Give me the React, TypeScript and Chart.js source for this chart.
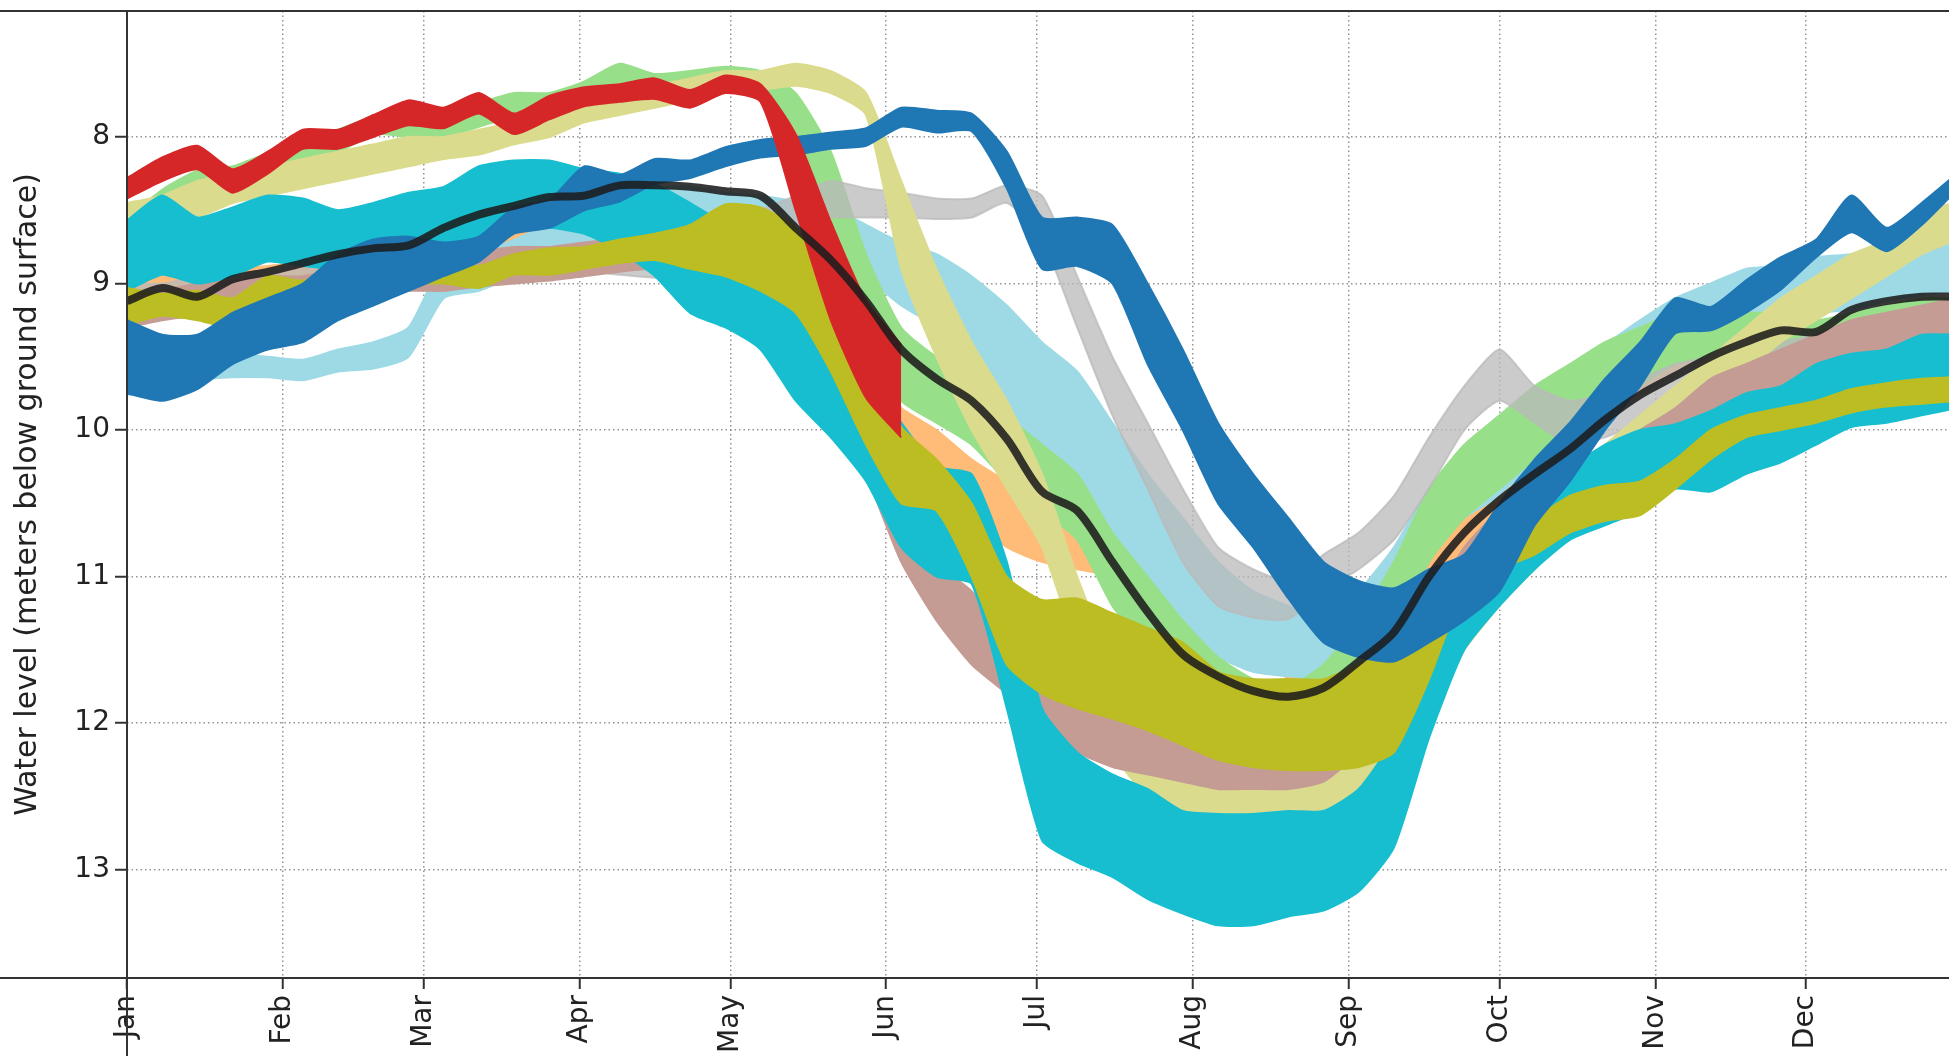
import React, { useEffect, useRef } from "react";
import { Chart, registerables } from "chart.js";

Chart.register(...registerables);

// Day of year (0 = 1 Jan), one sample per week
const DAYS = [
  0, 7, 14, 21, 28, 35, 42, 49, 56, 63,
  70, 77, 84, 91, 98, 105, 112, 119, 126, 133,
  140, 147, 154, 161, 168, 175, 182, 189, 196, 203,
  210, 217, 224, 231, 238, 245, 252, 259, 266, 273,
  280, 287, 294, 301, 308, 315, 322, 329, 336, 343,
  350, 357, 364,
];

const MONTH_LABELS = ["Jan", "Feb", "Mar", "Apr", "May", "Jun", "Jul", "Aug", "Sep", "Oct", "Nov", "Dec"];
const MONTH_START_DAYS = [0, 31, 59, 90, 120, 151, 181, 212, 243, 273, 304, 334];
const DEPTH_TICKS = [8, 9, 10, 11, 12, 13];

// Each year: shallow edge and deep edge of its daily fluctuation band (m below ground)
const RED_SHALLOW = [
  8.28, 8.14, 8.06, 8.22, 8.10, 7.95, 7.95, 7.85, 7.75, 7.80,
  7.70, 7.84, 7.72, 7.66, 7.64, 7.60, 7.68, 7.58, 7.64, 7.98,
  8.58, 9.12, 9.42,
];
const RED_DEEP = [
  8.42, 8.30, 8.22, 8.38, 8.25, 8.08, 8.08, 8.00, 7.92, 7.94,
  7.84, 7.98, 7.88, 7.79, 7.76, 7.74, 7.80, 7.70, 7.76, 8.50,
  9.25, 9.78, 10.05,
];

const LIGHT_GREEN_SHALLOW = [
  8.55, 8.36, 8.23, 8.20, 8.11, 8.04, 7.95, 7.86, 7.84, 7.86,
  7.77, 7.70, 7.70, 7.62, 7.50, 7.57, 7.55, 7.52, 7.55, 7.70,
  8.10, 8.80, 9.30, 9.50, 9.60, 9.90, 10.10, 10.30, 10.70, 11.00,
  11.30, 11.55, 11.70, 11.75, 11.60, 11.30, 10.90, 10.40, 10.10, 9.90,
  9.70, 9.55, 9.40, 9.30, 9.20, 9.20, 9.20, 9.20, 9.25, 9.20,
  9.15, 9.10, 9.10,
];
const LIGHT_GREEN_DEEP = [
  8.75, 8.55, 8.43, 8.39, 8.30, 8.24, 8.11, 7.98, 8.00, 8.00,
  7.93, 7.86, 7.82, 7.77, 7.70, 7.73, 7.68, 7.62, 7.66, 7.95,
  8.60, 9.40, 9.80, 9.95, 10.10, 10.35, 10.55, 10.75, 11.20, 11.50,
  11.80, 12.00, 12.15, 12.20, 11.95, 11.70, 11.40, 10.90, 10.60, 10.40,
  10.20, 10.00, 9.90, 9.70, 9.55, 9.50, 9.50, 9.50, 9.55, 9.50,
  9.45, 9.40, 9.35,
];

const KHAKI_SHALLOW = [
  8.45, 8.40, 8.30, 8.25, 8.20, 8.15, 8.10, 8.05, 8.00, 8.00,
  7.95, 7.90, 7.85, 7.75, 7.70, 7.65, 7.60, 7.55, 7.55, 7.50,
  7.55, 7.70, 8.30, 8.90, 9.40, 9.80, 10.30, 11.00, 11.60, 12.00,
  12.20, 12.35, 12.35, 12.30, 12.25, 12.00, 11.80, 11.50, 11.10, 10.80,
  10.60, 10.35, 10.10, 9.90, 9.70, 9.50, 9.30, 9.10, 8.95, 8.80,
  8.70, 8.50, 8.45,
];
const KHAKI_DEEP = [
  8.70, 8.60, 8.55, 8.45, 8.40, 8.35, 8.30, 8.25, 8.20, 8.15,
  8.12, 8.05, 8.00, 7.90, 7.85, 7.80, 7.75, 7.70, 7.68, 7.65,
  7.70, 7.85, 8.90, 9.50, 10.00, 10.40, 10.80, 11.50, 12.20, 12.50,
  12.65, 12.72, 12.72, 12.70, 12.65, 12.50, 12.30, 11.90, 11.50, 11.20,
  10.95, 10.70, 10.45, 10.20, 10.00, 9.80, 9.60, 9.40, 9.25, 9.10,
  8.95, 8.80, 8.70,
];

const DARK_BLUE_SHALLOW = [
  9.25, 9.35, 9.35, 9.20, 9.10, 9.00, 8.80, 8.70, 8.68, 8.72,
  8.68, 8.48, 8.43, 8.20, 8.26, 8.15, 8.16, 8.07, 8.02, 8.00,
  7.97, 7.94, 7.80, 7.82, 7.84, 8.10, 8.55, 8.55, 8.60, 9.00,
  9.45, 9.95, 10.30, 10.60, 10.90, 11.03, 11.08, 10.95, 10.85, 10.50,
  10.20, 9.95, 9.65, 9.40, 9.10, 9.16, 8.98, 8.82, 8.70, 8.40,
  8.62, 8.45, 8.25,
];
const DARK_BLUE_DEEP = [
  9.75, 9.80, 9.72, 9.55, 9.45, 9.40, 9.25, 9.15, 9.05, 8.95,
  8.85, 8.66, 8.62, 8.50, 8.44, 8.32, 8.28, 8.20, 8.14, 8.12,
  8.08, 8.06, 7.93, 7.97, 7.96, 8.35, 8.90, 8.88, 9.00, 9.55,
  10.00, 10.50, 10.80, 11.15, 11.45, 11.55, 11.58, 11.45, 11.30, 11.10,
  10.65, 10.35, 10.00, 9.70, 9.34, 9.32, 9.20, 9.04, 8.82, 8.65,
  8.78, 8.60, 8.36,
];

const LIGHT_CYAN_SHALLOW = [
  9.62, 9.55, 9.48, 9.48, 9.50, 9.52, 9.45, 9.40, 9.30, 8.85,
  8.80, 8.70, 8.60, 8.50, 8.40, 8.35, 8.34, 8.38, 8.40, 8.44,
  8.48, 8.60, 8.72, 8.80, 8.95, 9.15, 9.40, 9.60, 9.95, 10.30,
  10.60, 10.90, 11.10, 11.20, 11.30, 11.10, 10.80, 10.40, 10.15, 10.00,
  9.75, 9.60, 9.42, 9.25, 9.10, 9.00, 8.90, 8.88, 8.82, 8.80,
  8.75, 8.70, 8.68,
];
const LIGHT_CYAN_DEEP = [
  9.76, 9.72, 9.66, 9.64, 9.64, 9.66, 9.60, 9.58, 9.50, 9.10,
  9.05, 8.95, 8.85, 8.75, 8.70, 8.65, 8.70, 8.72, 8.72, 8.75,
  8.88, 8.96, 9.15, 9.30, 9.55, 9.85, 10.20, 10.50, 10.90, 11.10,
  11.40, 11.55, 11.65, 11.68, 11.68, 11.55, 11.20, 10.85, 10.60, 10.45,
  10.20, 10.00, 9.82, 9.68, 9.55, 9.45, 9.35, 9.28, 9.20, 9.18,
  9.12, 9.08, 9.05,
];

const CYAN_SHALLOW = [
  8.57, 8.40, 8.55, 8.48, 8.40, 8.42, 8.50, 8.45, 8.38, 8.34,
  8.20, 8.16, 8.16, 8.22, 8.25, 8.32, 8.45, 8.60, 8.85, 9.10,
  9.35, 9.60, 9.95, 10.25, 10.30, 10.90, 11.90, 12.20, 12.35, 12.45,
  12.60, 12.62, 12.62, 12.60, 12.60, 12.45, 12.10, 11.50, 11.00, 10.60,
  10.35, 10.25, 10.10, 10.00, 9.96, 9.87, 9.75, 9.70, 9.55, 9.48,
  9.45, 9.35, 9.35,
];
const CYAN_DEEP = [
  9.05, 8.94, 9.00, 8.95, 8.85, 8.88, 8.90, 8.85, 8.80, 8.75,
  8.72, 8.62, 8.62, 8.66, 8.78, 8.95, 9.20, 9.30, 9.45, 9.80,
  10.05, 10.35, 10.80, 11.00, 11.05, 11.90, 12.80, 12.95, 13.05, 13.20,
  13.30, 13.38, 13.38, 13.32, 13.28, 13.15, 12.85, 12.10, 11.50, 11.20,
  10.95, 10.75, 10.65, 10.55, 10.40, 10.42, 10.30, 10.22, 10.10, 9.98,
  9.95, 9.90, 9.85,
];

const OLIVE_SHALLOW = [
  9.03, 9.07, 9.05, 9.10, 8.95, 8.98, 8.90, 8.86, 8.84, 8.86,
  8.88, 8.80, 8.76, 8.75, 8.70, 8.66, 8.60, 8.46, 8.48, 8.62,
  9.00, 9.50, 9.98, 10.20, 10.50, 11.00, 11.16, 11.15, 11.25, 11.35,
  11.45, 11.65, 11.70, 11.70, 11.70, 11.60, 11.50, 11.20, 10.85, 10.70,
  10.60, 10.45, 10.38, 10.35, 10.20, 10.00, 9.90, 9.85, 9.80, 9.72,
  9.68, 9.65, 9.64,
];
const OLIVE_DEEP = [
  9.28, 9.22, 9.25, 9.30, 9.15, 9.12, 9.07, 9.04, 9.00, 9.00,
  9.03, 8.94, 8.94, 8.90, 8.86, 8.84, 8.90, 8.95, 9.05, 9.20,
  9.60, 10.10, 10.50, 10.55, 11.00, 11.60, 11.80, 11.90, 11.97, 12.05,
  12.15, 12.25, 12.30, 12.32, 12.32, 12.30, 12.20, 11.70, 11.10, 10.95,
  10.85, 10.70, 10.62, 10.58, 10.40, 10.20, 10.05, 10.00, 9.95, 9.88,
  9.84, 9.82, 9.80,
];

const PINK_SHALLOW = [
  9.10, 9.05, 9.00, 8.98, 8.95, 8.95, 8.90, 8.88, 8.85, 8.80,
  8.78, 8.75, 8.75, 8.72, 8.70, 8.70, 8.75, 8.80, 8.95, 9.10,
  9.40, 9.90, 10.40, 10.90, 11.10, 11.40, 11.60, 11.70, 11.80, 11.90,
  11.95, 12.00, 12.00, 12.05, 12.00, 11.80, 11.50, 11.20, 10.80, 10.55,
  10.45, 10.35, 10.15, 10.00, 9.85, 9.65, 9.55, 9.45, 9.35, 9.25,
  9.20, 9.15, 9.10,
];
const PINK_DEEP = [
  9.30, 9.25, 9.22, 9.20, 9.18, 9.15, 9.12, 9.10, 9.05, 9.05,
  9.02, 9.00, 8.98, 8.95, 8.92, 8.90, 8.95, 9.00, 9.15, 9.35,
  9.75, 10.30, 10.90, 11.30, 11.60, 11.80, 12.05, 12.20, 12.30, 12.35,
  12.40, 12.45, 12.45, 12.45, 12.40, 12.20, 11.90, 11.60, 11.20, 10.85,
  10.75, 10.70, 10.45, 10.30, 10.15, 10.00, 9.90, 9.80, 9.65, 9.55,
  9.50, 9.45, 9.40,
];

const PEACH_SHALLOW = [
  8.95, 8.95, 8.92, 8.90, 8.88, 8.85, 8.80, 8.78, 8.75, 8.70,
  8.65, 8.60, 8.55, 8.50, 8.50, 8.50, 8.55, 8.65, 8.85, 9.05,
  9.30, 9.60, 9.85, 10.00, 10.20, 10.35, 10.45, 10.50, 10.60, 10.80,
  10.95, 11.05, 11.15, 11.30, 11.40, 11.30, 11.10, 10.85, 10.60, 10.30,
  10.00, 9.60, 9.50, 9.40, 9.30, 9.20, 9.05, 8.90, 8.85, 8.80,
  8.72, 8.62, 8.60,
];
const PEACH_DEEP = [
  9.15, 9.10, 9.08, 9.05, 9.02, 9.00, 8.98, 8.95, 8.92, 8.90,
  8.85, 8.80, 8.75, 8.70, 8.70, 8.72, 8.78, 8.90, 9.15, 9.45,
  9.75, 10.00, 10.25, 10.40, 10.60, 10.80, 10.90, 10.95, 11.00, 11.15,
  11.30, 11.35, 11.45, 11.70, 11.75, 11.65, 11.50, 11.20, 10.95, 10.70,
  10.40, 9.95, 9.85, 9.75, 9.60, 9.50, 9.35, 9.15, 9.10, 9.00,
  8.95, 8.85, 8.80,
];

const GRAY_SHALLOW = [
  9.00, 9.00, 8.95, 8.95, 8.90, 8.88, 8.85, 8.85, 8.82, 8.80,
  8.80, 8.78, 8.78, 8.77, 8.78, 8.80, 8.75, 8.65, 8.50, 8.40,
  8.30, 8.35, 8.38, 8.42, 8.42, 8.33, 8.40, 8.95, 9.50, 9.95,
  10.40, 10.80, 10.95, 11.03, 10.85, 10.70, 10.45, 10.05, 9.70, 9.45,
  9.70, 9.80, 9.75, 9.65, 9.55, 9.50, 9.45, 9.40, 9.35, 9.30,
  9.25, 9.20, 9.20,
];
const GRAY_DEEP = [
  9.20, 9.20, 9.15, 9.12, 9.10, 9.05, 9.03, 9.00, 9.00, 8.98,
  8.95, 8.95, 8.94, 8.92, 8.94, 8.96, 8.95, 8.85, 8.70, 8.60,
  8.55, 8.55, 8.55, 8.56, 8.55, 8.45, 8.70, 9.30, 9.90, 10.40,
  10.90, 11.20, 11.28, 11.29, 11.10, 10.95, 10.75, 10.40, 10.00, 9.80,
  9.95, 10.10, 10.05, 9.95, 9.85, 9.75, 9.70, 9.65, 9.60, 9.55,
  9.50, 9.45, 9.40,
];

const MEAN_LEVEL = [
  9.12, 9.03, 9.09, 8.97, 8.92, 8.86, 8.80, 8.76, 8.74, 8.62,
  8.53, 8.47, 8.41, 8.40, 8.33, 8.33, 8.34, 8.37, 8.40, 8.62,
  8.84, 9.12, 9.45, 9.65, 9.80, 10.06, 10.42, 10.55, 10.90, 11.24,
  11.53, 11.68, 11.78, 11.82, 11.76, 11.58, 11.38, 11.00, 10.70, 10.48,
  10.30, 10.13, 9.93, 9.76, 9.63, 9.50, 9.40, 9.32, 9.33, 9.18,
  9.12, 9.09, 9.09,
];

// bottom-most drawn first, top-most last
const BANDS = [
  { color: "#ffbb78", shallow: PEACH_SHALLOW, deep: PEACH_DEEP },
  { color: "#9edae5", shallow: LIGHT_CYAN_SHALLOW, deep: LIGHT_CYAN_DEEP },
  { color: "#98df8a", shallow: LIGHT_GREEN_SHALLOW, deep: LIGHT_GREEN_DEEP },
  { color: "rgba(185,185,185,0.75)", shallow: GRAY_SHALLOW, deep: GRAY_DEEP },
  { color: "#dbdb8d", shallow: KHAKI_SHALLOW, deep: KHAKI_DEEP },
  { color: "#c49c94", shallow: PINK_SHALLOW, deep: PINK_DEEP },
  { color: "#17becf", shallow: CYAN_SHALLOW, deep: CYAN_DEEP },
  { color: "#bcbd22", shallow: OLIVE_SHALLOW, deep: OLIVE_DEEP },
  { color: "#1f77b4", shallow: DARK_BLUE_SHALLOW, deep: DARK_BLUE_DEEP },
  { color: "#d62728", shallow: RED_SHALLOW, deep: RED_DEEP },
];

const toPoints = (values: number[]) => values.map((v, i) => ({ x: DAYS[i], y: v }));

const FONT = "'DejaVu Sans', Verdana, sans-serif";
const INK = "#222";

const framePlugin = {
  id: "frameLines",
  afterDraw(chart: any) {
    const { ctx, chartArea, width, height } = chart;
    ctx.save();
    ctx.strokeStyle = "#333";
    ctx.lineWidth = 2;
    ctx.beginPath();
    ctx.moveTo(0, chartArea.top);
    ctx.lineTo(width, chartArea.top);
    ctx.moveTo(0, chartArea.bottom);
    ctx.lineTo(width, chartArea.bottom);
    ctx.moveTo(chartArea.left, chartArea.top);
    ctx.lineTo(chartArea.left, height);
    ctx.stroke();
    ctx.restore();
  },
};

export default function App() {
  const canvasRef = useRef<HTMLCanvasElement | null>(null);

  useEffect(() => {
    if (!canvasRef.current) return;
    const datasets: any[] = [];
    const n = BANDS.length;
    BANDS.forEach((band, k) => {
      const order = (n - k) * 2 + 1;
      datasets.push({
        data: toPoints(band.shallow),
        borderColor: band.color,
        backgroundColor: band.color,
        borderWidth: 2,
        pointRadius: 0,
        tension: 0.2,
        fill: false,
        order,
      });
      datasets.push({
        data: toPoints(band.deep),
        borderColor: band.color,
        backgroundColor: band.color,
        borderWidth: 2,
        pointRadius: 0,
        tension: 0.2,
        fill: "-1",
        order,
      });
    });
    datasets.push({
      data: toPoints(MEAN_LEVEL),
      borderColor: "rgba(28,28,28,0.88)",
      borderWidth: 8,
      pointRadius: 0,
      tension: 0.3,
      fill: false,
      order: 0,
    });

    const chart = new Chart(canvasRef.current, {
      type: "line",
      data: { datasets },
      plugins: [framePlugin],
      options: {
        animation: false,
        responsive: false,
        maintainAspectRatio: false,
        layout: { padding: { top: 11, right: 38, left: 0, bottom: 0 } },
        plugins: {
          legend: { display: false },
          tooltip: { enabled: false },
        },
        scales: {
          x: {
            type: "linear",
            min: 0,
            max: 365,
            afterBuildTicks: (scale: any) => {
              scale.ticks = MONTH_START_DAYS.map((v) => ({ value: v }));
            },
            afterFit: (scale: any) => {
              scale.height = 122;
              scale.paddingLeft = 0;
              scale.paddingRight = 0;
            },
            ticks: {
              autoSkip: false,
              maxRotation: 90,
              minRotation: 90,
              padding: 6,
              color: INK,
              font: { family: FONT, size: 28 },
              callback: (value: any) => {
                const i = MONTH_START_DAYS.indexOf(Number(value));
                return i >= 0 ? MONTH_LABELS[i] : "";
              },
            },
            grid: {
              color: "rgba(130,130,130,0.85)",
              lineWidth: 1.5,
              drawTicks: true,
              tickLength: 11,
              tickColor: "#333",
              tickWidth: 2,
              tickBorderDash: [],
            },
            border: { display: false, dash: [1.5, 3] },
          },
          y: {
            type: "linear",
            reverse: true,
            min: 7.14,
            max: 13.74,
            afterBuildTicks: (scale: any) => {
              scale.ticks = DEPTH_TICKS.map((v) => ({ value: v }));
            },
            afterFit: (scale: any) => {
              scale.width = 127;
              scale.paddingTop = 0;
              scale.paddingBottom = 0;
            },
            ticks: {
              padding: 5,
              color: INK,
              font: { family: FONT, size: 28 },
              callback: (value: any) => String(value),
            },
            grid: {
              color: "rgba(130,130,130,0.85)",
              lineWidth: 1.5,
              drawTicks: true,
              tickLength: 12,
              tickColor: "#333",
              tickWidth: 2,
              tickBorderDash: [],
            },
            border: { display: false, dash: [1.5, 3] },
            title: {
              display: true,
              text: "Water level (meters below ground surface)",
              color: INK,
              font: { family: FONT, size: 30 },
              padding: { top: 10, bottom: 0 },
            },
          },
        },
      },
    } as any);

    return () => chart.destroy();
  }, []);

  return (
    <div
      style={{
        position: "absolute",
        left: 0,
        top: 0,
        width: "100vw",
        height: "100vh",
        overflow: "hidden",
        background: "#fff",
      }}
    >
      <canvas ref={canvasRef} width={2000} height={1100} style={{ display: "block" }} />
    </div>
  );
}
